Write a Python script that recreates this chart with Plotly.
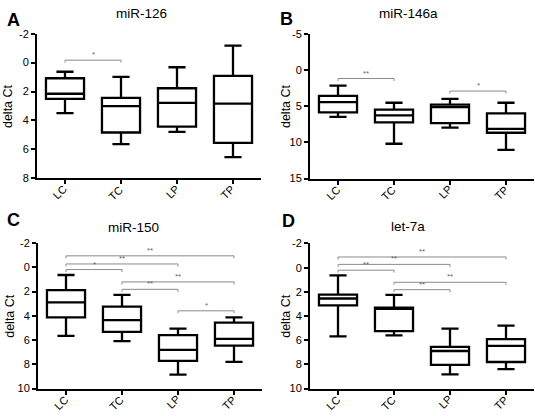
import plotly.graph_objects as go

categories = ["LC", "TC", "LP", "TP"]
positions = [0, 1, 2, 3]

# panel A: miR-126
a_low = [0.63, 0.99, 0.32, -1.17]
a_q1 = [1.08, 2.44, 1.77, 0.92]
a_med = [2.15, 3.00, 2.78, 2.84]
a_q3 = [2.51, 4.83, 4.43, 5.54]
a_high = [3.49, 5.63, 4.79, 6.53]

# panel B: miR-146a
b_low = [2.14, 4.51, 3.97, 4.51]
b_q1 = [3.57, 5.45, 4.78, 5.98]
b_med = [4.42, 6.25, 5.13, 8.13]
b_q3 = [5.85, 7.23, 7.32, 8.66]
b_high = [6.47, 10.18, 7.95, 11.03]

# panel C: miR-150
c_low = [0.64, 2.27, 5.06, 4.13]
c_q1 = [1.88, 3.24, 5.60, 4.56]
c_med = [2.90, 4.36, 6.80, 5.90]
c_q3 = [4.13, 5.33, 7.71, 6.46]
c_high = [5.66, 6.08, 8.84, 7.80]

# panel D: let-7a
d_low = [0.64, 2.25, 5.04, 4.80]
d_q1 = [2.23, 3.30, 6.54, 5.90]
d_med = [2.55, 3.40, 6.89, 6.46]
d_q3 = [3.11, 5.25, 8.04, 7.80]
d_high = [5.68, 5.60, 8.82, 8.39]

# significance comparisons: (from index, to index, level, label)
a_sig = [(0, 1, -0.17, "*")]
b_sig = [(0, 1, 1.16, "**"), (2, 3, 2.90, "*")]
c_sig = [(0, 3, -0.94, "**"), (0, 2, -0.27, "**"), (0, 1, 0.19, "*"),
         (1, 3, 1.21, "**"), (1, 2, 1.82, "**"), (2, 3, 3.59, "*")]
d_sig = [(0, 3, -0.88, "**"), (0, 2, -0.27, "**"), (0, 1, 0.21, "**"),
         (1, 3, 1.21, "**"), (1, 2, 1.82, "**")]

# y tick values / labels per panel
a_yticks = [-2, 0, 2, 4, 6, 8]
b_yticks = [-5, 0, 5, 10, 15]
c_yticks = [-2, 0, 2, 4, 6, 8, 10]
d_yticks = [-2, 0, 2, 4, 6, 8, 10]

titles = ["miR-126", "miR-146a", "miR-150", "let-7a"]
letters = ["A", "B", "C", "D"]
y_ranges = [(8, -2), (15, -5), (10, -2), (10, -2)]
y_ticks = [a_yticks, b_yticks, c_yticks, d_yticks]

W, H = 535, 416
FONT = "Liberation Sans, Arial, sans-serif"

# layout in pixels (left, right, top, bottom)
panels_px = [
    (37, 261, 28.5, 177.5),
    (310, 534, 28.8, 177.7),
    (38, 262, 244.0, 394.0),
    (310, 534, 244.5, 394.0),
]
title_px = [(141, 8), (408, 8), (133, 228), (408, 227)]
letter_px = [(13, 14), (286, 13), (13, 220), (288, 221)]
ylabel_px = [(8, 103), (286, 103), (10, 319), (286, 319)]

data = [
    (a_low, a_q1, a_med, a_q3, a_high, a_sig),
    (b_low, b_q1, b_med, b_q3, b_high, b_sig),
    (c_low, c_q1, c_med, c_q3, c_high, c_sig),
    (d_low, d_q1, d_med, d_q3, d_high, d_sig),
]

fig = go.Figure()
annotations = []
layout_axes = {}

for i, (low, q1, med, q3, high, sig) in enumerate(data):
    n = "" if i == 0 else str(i + 1)
    xa, ya = "x" + n, "y" + n
    l, r, t, b = panels_px[i]
    fig.add_trace(go.Box(
        x=positions, lowerfence=low, q1=q1, median=med, q3=q3, upperfence=high,
        xaxis=xa, yaxis=ya, fillcolor="white",
        line=dict(color="black", width=2.3), whiskerwidth=0.45, width=0.68,
        boxpoints=False, showlegend=False, hoverinfo="skip",
    ))
    yr = y_ranges[i]
    px_per_unit = (b - t) / abs(yr[0] - yr[1])
    tick_len = 2.5 / px_per_unit
    for (f, g, lvl, lab) in sig:
        fig.add_trace(go.Scatter(
            x=[positions[f], positions[f], positions[g], positions[g]],
            y=[lvl + tick_len, lvl, lvl, lvl + tick_len],
            mode="lines", line=dict(color="#8a8a8a", width=1),
            xaxis=xa, yaxis=ya, showlegend=False, hoverinfo="skip",
        ))
        annotations.append(dict(
            x=(positions[f] + positions[g]) / 2, y=lvl, xref=xa, yref=ya,
            text=lab, showarrow=False, yanchor="bottom", yshift=-1,
            font=dict(size=8, color="#666666", family=FONT),
        ))
    # rotated category labels
    for p, cat in zip(positions, categories):
        annotations.append(dict(
            x=p, y=1 - b / H, xref=xa, yref="paper", text=cat,
            showarrow=False, textangle=-45, xanchor="right", yanchor="top",
            xshift=7, yshift=-2,
            font=dict(size=11, color="black", family=FONT),
        ))
    layout_axes["xaxis" + n] = dict(
        domain=[l / W, r / W], range=[-0.5, 3.5], anchor=ya,
        tickvals=positions, showticklabels=False,
        showline=True, linecolor="black", linewidth=2, ticks="outside",
        ticklen=4, tickwidth=1.5, tickcolor="black", showgrid=False,
        zeroline=False,
    )
    layout_axes["yaxis" + n] = dict(
        domain=[1 - b / H, 1 - t / H], range=list(yr), anchor=xa,
        tickvals=y_ticks[i], ticktext=[str(v) for v in y_ticks[i]],
        showline=True, linecolor="black", linewidth=2, ticks="outside",
        ticklen=4, tickwidth=1.5, tickcolor="black", showgrid=False,
        zeroline=False, tickfont=dict(size=11, color="black", family=FONT),
    )
    tx, ty = title_px[i]
    annotations.append(dict(x=tx / W, y=1 - ty / H, xref="paper", yref="paper",
                            text=titles[i], showarrow=False, xanchor="center",
                            yanchor="middle",
                            font=dict(size=13.5, color="black", family=FONT)))
    lx, ly = letter_px[i]
    annotations.append(dict(x=lx / W, y=1 - ly / H, xref="paper", yref="paper",
                            text="<b>" + letters[i] + "</b>", showarrow=False,
                            xanchor="center", yanchor="middle",
                            font=dict(size=18, color="black", family=FONT)))
    yx, yy = ylabel_px[i]
    annotations.append(dict(x=yx / W, y=1 - yy / H, xref="paper", yref="paper",
                            text="delta Ct", showarrow=False, textangle=-90,
                            xanchor="center", yanchor="middle",
                            font=dict(size=12.5, color="black", family=FONT)))

fig.update_layout(
    width=W, height=H, margin=dict(l=0, r=0, t=0, b=0),
    plot_bgcolor="white", paper_bgcolor="white",
    annotations=annotations, **layout_axes,
)
fig.write_html(
    "out.html",
    config={"displayModeBar": False},
    post_script="document.body.style.margin='0';document.body.style.overflow='hidden';",
)
